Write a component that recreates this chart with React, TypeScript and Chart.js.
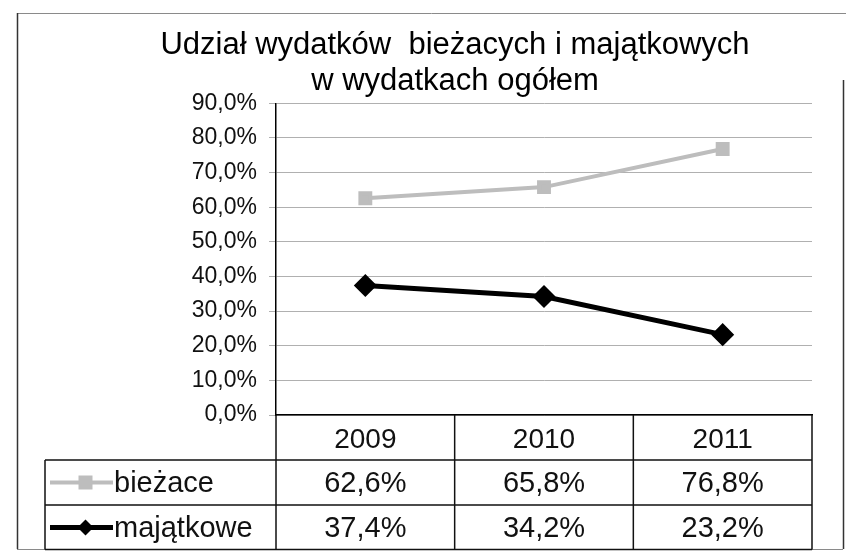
import React, { useEffect, useRef } from 'react';
import { Chart, registerables } from 'chart.js';

Chart.register(...registerables);

const years = ['2009', '2010', '2011'];
const biezace = [62.6, 65.8, 76.8];
const majatkowe = [37.4, 34.2, 23.2];
const seriesNames = ['bieżace', 'majątkowe'];
const titleLines = ['Udział wydatków  bieżacych i majątkowych', 'w wydatkach ogółem'];
const yMin = 0;
const yMax = 90;
const yStep = 10;

const FONT = '"Liberation Sans", Arial, sans-serif';
const GRAY = '#bdbdbd';
const fmt = (v: number) => v.toFixed(1).replace('.', ',') + '%';

const ROW_H = 45;
const LEGEND_LEFT = 45;

const framePlugin = {
  id: 'frame',
  beforeDraw(chart: any) {
    const { ctx } = chart;
    ctx.save();
    ctx.fillStyle = '#ffffff';
    ctx.fillRect(0, 0, chart.width, chart.height);
    ctx.lineWidth = 1;
    ctx.strokeStyle = '#8a8a8a';
    ctx.beginPath();
    ctx.moveTo(17, 13.5);
    ctx.lineTo(846, 13.5);
    ctx.stroke();
    ctx.strokeStyle = '#333';
    ctx.lineWidth = 1.5;
    ctx.beginPath();
    ctx.moveTo(17.5, 13);
    ctx.lineTo(17.5, 549);
    ctx.moveTo(843.5, 80);
    ctx.lineTo(843.5, 549);
    ctx.stroke();
    ctx.strokeStyle = '#8a8a8a';
    ctx.lineWidth = 1;
    ctx.beginPath();
    ctx.moveTo(17, 549.5);
    ctx.lineTo(843, 549.5);
    ctx.stroke();
    ctx.restore();
  },
};

const tablePlugin = {
  id: 'dataTable',
  afterDraw(chart: any) {
    const { ctx, chartArea } = chart;
    const x = chart.scales.x;
    const { left, right, bottom } = chartArea;
    const n = years.length;
    const bounds: number[] = [left];
    for (let i = 0; i < n - 1; i++) {
      bounds.push((x.getPixelForValue(i) + x.getPixelForValue(i + 1)) / 2);
    }
    bounds.push(right);
    const tableBottom = Math.min(bottom + 3 * ROW_H, chart.height - 1.5);

    ctx.save();
    ctx.strokeStyle = '#111';
    ctx.lineWidth = 1.5;
    ctx.beginPath();
    for (let r = 1; r <= 3; r++) {
      const yy = Math.min(bottom + r * ROW_H, chart.height - 1.5);
      ctx.moveTo(LEGEND_LEFT, yy);
      ctx.lineTo(right, yy);
    }
    bounds.forEach((bx) => {
      ctx.moveTo(bx, bottom);
      ctx.lineTo(bx, tableBottom);
    });
    ctx.moveTo(LEGEND_LEFT, bottom + ROW_H);
    ctx.lineTo(LEGEND_LEFT, tableBottom);
    ctx.stroke();

    ctx.fillStyle = '#111';
    ctx.font = `29px ${FONT}`;
    ctx.textAlign = 'center';
    ctx.textBaseline = 'middle';
    const rows = [biezace, majatkowe];
    rows.forEach((vals, r) => {
      const cy = bottom + ROW_H * (r + 1) + ROW_H / 2 + 1;
      vals.forEach((v, i) => {
        ctx.fillText(fmt(v), x.getPixelForValue(i), cy);
      });
    });

    const keyX0 = LEGEND_LEFT + 5;
    const keyX1 = LEGEND_LEFT + 68;
    const keyMid = (keyX0 + keyX1) / 2 + 4;
    seriesNames.forEach((name, r) => {
      const cy = bottom + ROW_H * (r + 1) + ROW_H / 2;
      const ds = chart.data.datasets[r];
      ctx.strokeStyle = ds.borderColor;
      ctx.lineWidth = ds.borderWidth;
      ctx.beginPath();
      ctx.moveTo(keyX0, cy);
      ctx.lineTo(keyX1, cy);
      ctx.stroke();
      ctx.fillStyle = ds.pointBackgroundColor;
      ctx.beginPath();
      if (r === 0) {
        ctx.rect(keyMid - 7, cy - 7, 14, 14);
      } else {
        ctx.moveTo(keyMid, cy - 8);
        ctx.lineTo(keyMid + 8, cy);
        ctx.lineTo(keyMid, cy + 8);
        ctx.lineTo(keyMid - 8, cy);
        ctx.closePath();
      }
      ctx.fill();
      ctx.fillStyle = '#111';
      ctx.font = `29px ${FONT}`;
      ctx.textAlign = 'left';
      ctx.fillText(name, keyX1 + 1, cy + 1);
    });
    ctx.restore();
  },
};

export default function App() {
  const ref = useRef<HTMLCanvasElement>(null);

  useEffect(() => {
    if (!ref.current) return;
    const chart = new Chart(ref.current, {
      type: 'line',
      data: {
        labels: years,
        datasets: [
          {
            label: seriesNames[0],
            data: biezace,
            borderColor: GRAY,
            backgroundColor: GRAY,
            pointBackgroundColor: GRAY,
            pointBorderColor: GRAY,
            borderWidth: 4,
            pointStyle: 'rect',
            pointRadius: 7,
            tension: 0,
          },
          {
            label: seriesNames[1],
            data: majatkowe,
            borderColor: '#000000',
            backgroundColor: '#000000',
            pointBackgroundColor: '#000000',
            pointBorderColor: '#000000',
            borderWidth: 5,
            pointStyle: 'rectRot',
            pointRadius: 8,
            tension: 0,
          },
        ],
      },
      options: {
        responsive: false,
        animation: false,
        devicePixelRatio: 1,
        layout: { padding: { left: 98, right: 34, top: 12, bottom: 0 } },
        plugins: {
          legend: { display: false },
          tooltip: { enabled: false },
          title: {
            display: true,
            text: titleLines,
            color: '#000',
            font: { family: FONT, size: 31, weight: 'normal', lineHeight: 1.15 },
            padding: { top: 16, bottom: 4 },
          },
        },
        scales: {
          x: {
            type: 'category',
            offset: true,
            grid: { display: false, drawTicks: false },
            border: { display: true, color: '#000', width: 1.5 },
            ticks: {
              color: '#111',
              font: { family: FONT, size: 28 },
              padding: 8,
              maxRotation: 0,
            },
            afterFit: (scale: any) => {
              scale.height = 136;
            },
          },
          y: {
            min: yMin,
            max: yMax,
            ticks: {
              stepSize: yStep,
              color: '#111',
              font: { family: FONT, size: 23 },
              padding: 12,
              callback: (v: any) => fmt(Number(v)),
            },
            grid: { color: '#b0b0b0', lineWidth: 1, tickLength: 7, drawTicks: true },
            border: { display: true, color: '#000', width: 1.5 },
            afterFit: (scale: any) => {
              scale.width = 178;
            },
          },
        },
      },
      plugins: [framePlugin, tablePlugin],
    });
    return () => chart.destroy();
  }, []);

  return (
    <div style={{ position: 'absolute', left: 0, top: 0, width: 846, height: 551 }}>
      <canvas ref={ref} width={846} height={551} />
    </div>
  );
}
